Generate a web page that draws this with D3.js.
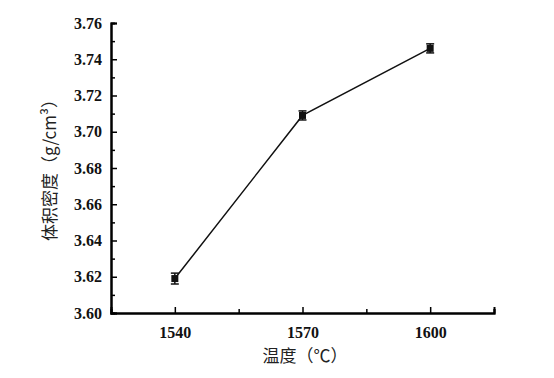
<!DOCTYPE html>
<html><head><meta charset="utf-8">
<script src="https://cdn.jsdelivr.net/npm/d3@7"></script>
<style>body{margin:0;background:#fff}
.tk text{font-family:"Liberation Serif","DejaVu Serif",serif !important;font-weight:bold;font-size:16px}
</style>
</head><body>
<script>
const temps = [1540, 1570, 1600];
const density = [3.619, 3.709, 3.746];
const errors = [0.003, 0.0025, 0.0025];
const xTicks = [1540, 1570, 1600];
const xMinor = [1555, 1585, 1615];
const yTicks = [3.60, 3.62, 3.64, 3.66, 3.68, 3.70, 3.72, 3.74, 3.76];
const yMinor = [3.61, 3.63, 3.65, 3.67, 3.69, 3.71, 3.73, 3.75];
const xLabel = "温度（℃）";
const yLabel = "体积密度（g/cm³）";

const W = 554, H = 378;
const svg = d3.select("body").append("svg").attr("width", W).attr("height", H);
const x = d3.scaleLinear().domain([1525, 1615]).range([111, 494]);
const y = d3.scaleLinear().domain([3.60, 3.76]).range([313, 23]);

const gx = svg.append("g").attr("class", "tk").attr("transform", "translate(0,313)");
gx.call(d3.axisBottom(x).tickValues(xTicks).tickSize(-6).tickPadding(14).tickFormat(d3.format("d")));
gx.append("g").call(d3.axisBottom(x).tickValues(xMinor).tickSize(-4).tickFormat(""));
gx.selectAll(".domain").attr("stroke-width", 2);
gx.selectAll("text").attr("fill", "#111");

const gy = svg.append("g").attr("class", "tk").attr("transform", "translate(111,0)");
gy.call(d3.axisLeft(y).tickValues(yTicks).tickSize(-6).tickPadding(9).tickFormat(d3.format(".2f")));
gy.append("g").call(d3.axisLeft(y).tickValues(yMinor).tickSize(-4).tickFormat(""));
gy.selectAll(".domain").attr("stroke-width", 2);
gy.selectAll("text").attr("fill", "#111");
svg.selectAll(".tick line").attr("stroke-width", 1.5);

const pts = temps.map((t, i) => ({t, v: density[i], e: errors[i]}));
svg.append("path").datum(pts)
  .attr("fill", "none").attr("stroke", "#111").attr("stroke-width", 1.5)
  .attr("d", d3.line().x(d => x(d.t)).y(d => y(d.v)));

const g = svg.selectAll(".pt").data(pts).enter().append("g");
g.append("line").attr("x1", d => x(d.t)).attr("x2", d => x(d.t))
  .attr("y1", d => y(d.v - d.e)).attr("y2", d => y(d.v + d.e)).attr("stroke", "#111").attr("stroke-width", 1.5);
g.append("line").attr("x1", d => x(d.t) - 4).attr("x2", d => x(d.t) + 4)
  .attr("y1", d => y(d.v + d.e)).attr("y2", d => y(d.v + d.e)).attr("stroke", "#111").attr("stroke-width", 1.5);
g.append("line").attr("x1", d => x(d.t) - 4).attr("x2", d => x(d.t) + 4)
  .attr("y1", d => y(d.v - d.e)).attr("y2", d => y(d.v - d.e)).attr("stroke", "#111").attr("stroke-width", 1.5);
g.append("rect").attr("x", d => x(d.t) - 3.5).attr("y", d => y(d.v) - 3.5)
  .attr("width", 7).attr("height", 7).attr("fill", "#111");

svg.append("text").attr("x", 305).attr("y", 362).attr("text-anchor", "middle")
  .style("font-family", "'Noto Sans CJK SC',sans-serif").style("font-size", "17px").attr("fill", "#222").text(xLabel);
svg.append("text").attr("transform", "translate(56,166) rotate(-90)").attr("text-anchor", "middle")
  .style("font-family", "'Noto Sans CJK SC',sans-serif").style("font-size", "17px").attr("fill", "#222").text(yLabel);
</script>
</body></html>
